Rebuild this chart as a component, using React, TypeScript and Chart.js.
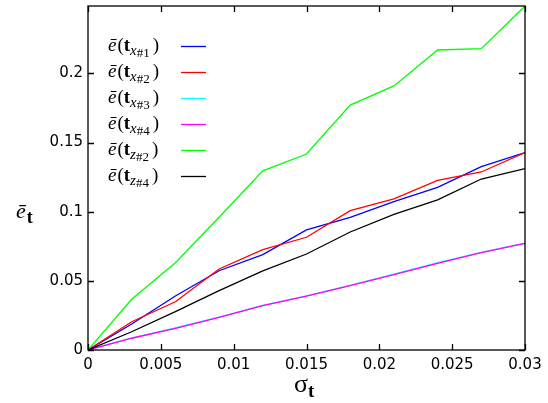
import React, { useEffect, useRef } from 'react';
import { Chart, registerables } from 'chart.js';

Chart.register(...registerables);

// Noise level sigma_t (x axis)
const sigma = [0, 0.003, 0.006, 0.009, 0.012, 0.015, 0.018, 0.021, 0.024, 0.027, 0.03];

// Mean translation error per estimator
const errTx1 = [0, 0.0188, 0.039, 0.0573, 0.069, 0.0868, 0.0959, 0.1073, 0.1176, 0.1326, 0.1427];
const errTx2 = [0, 0.0204, 0.0349, 0.0586, 0.0725, 0.0815, 0.1007, 0.1092, 0.1227, 0.1287, 0.1427];
const errTx3 = [0, 0.0086, 0.0159, 0.0238, 0.0322, 0.0392, 0.0468, 0.0548, 0.0632, 0.0706, 0.0772];
const errTx4 = [0, 0.0085, 0.0157, 0.0236, 0.032, 0.039, 0.0465, 0.0545, 0.0627, 0.0704, 0.0771];
const errTz2 = [0, 0.0367, 0.0631, 0.096, 0.1295, 0.1417, 0.1771, 0.1909, 0.2169, 0.2179, 0.2487];
const errTz4 = [0, 0.0132, 0.0277, 0.0429, 0.0572, 0.0694, 0.0853, 0.0981, 0.1085, 0.1236, 0.1311];

// Legend subscripts: axis letter and estimator index
const labelAxis = ['x', 'x', 'x', 'x', 'z', 'z'];
const labelIndex = ['#1', '#2', '#3', '#4', '#2', '#4'];
const seriesColors = ['#0000ff', '#ff0000', '#00ffff', '#ff00ff', '#00ff00', '#000000'];
const seriesValues = [errTx1, errTx2, errTx3, errTx4, errTz2, errTz4];

const X_MAX = 0.03;
const X_STEP = 0.005;
const Y_STEP = 0.05;
const Y_MAX = Math.max(...seriesValues.flat());

const SERIF = '"Liberation Serif", "DejaVu Serif", serif';
const SANS = '"DejaVu Sans", sans-serif';

const fmt = (v: number) => String(parseFloat(Number(v).toFixed(4)));

// Draws ē(t_{axis idx}) with mixed fonts; returns end x
function drawErrLabel(ctx: CanvasRenderingContext2D, x: number, y: number, axis: string, idx: string, size: number) {
  let cx = x;
  const part = (text: string, font: string, dy: number, gap = 0) => {
    ctx.font = font;
    ctx.fillText(text, cx, y + dy);
    cx += ctx.measureText(text).width + gap;
  };
  part('ē', `italic ${size}px ${SERIF}`, 0, 1);
  part('(', `${size}px ${SERIF}`, 0);
  part('t', `bold ${size}px ${SERIF}`, 0);
  part(axis, `italic ${Math.round(size * 0.78)}px ${SERIF}`, Math.round(size * 0.22));
  part(idx, `${Math.round(size * 0.68)}px ${SERIF}`, Math.round(size * 0.32), 3);
  part(')', `${size}px ${SERIF}`, 0);
  return cx;
}

const framePlugin = {
  id: 'frame',
  afterDraw(chart: any) {
    const { ctx, chartArea } = chart;
    const { left, right, top, bottom } = chartArea;
    const xs = chart.scales.x;
    const ys = chart.scales.y;
    ctx.save();
    ctx.strokeStyle = '#000';
    ctx.lineWidth = 1.3;
    ctx.strokeRect(left, top, right - left, bottom - top);

    // inward tick marks on all four sides
    const TL = 6;
    ctx.beginPath();
    xs.ticks.forEach((t: any) => {
      const px = Math.round(xs.getPixelForValue(t.value)) + 0.5;
      ctx.moveTo(px, bottom); ctx.lineTo(px, bottom - TL);
      ctx.moveTo(px, top); ctx.lineTo(px, top + TL);
    });
    ys.ticks.forEach((t: any) => {
      const py = Math.round(ys.getPixelForValue(t.value)) + 0.5;
      ctx.moveTo(left, py); ctx.lineTo(left + TL, py);
      ctx.moveTo(right, py); ctx.lineTo(right - TL, py);
    });
    ctx.stroke();

    // key
    ctx.fillStyle = '#000';
    ctx.textBaseline = 'alphabetic';
    ctx.textAlign = 'left';
    for (let i = 0; i < seriesColors.length; i++) {
      const rowY = 46.5 + 26 * i;
      drawErrLabel(ctx, 108, rowY + 4, labelAxis[i], labelIndex[i], 19);
      ctx.strokeStyle = seriesColors[i];
      ctx.lineWidth = 1.3;
      ctx.beginPath();
      ctx.moveTo(181, rowY);
      ctx.lineTo(206, rowY);
      ctx.stroke();
    }

    // y axis title: ē_t
    ctx.fillStyle = '#000';
    ctx.font = `italic 22px ${SERIF}`;
    ctx.fillText('ē', 16, 218);
    const ew = ctx.measureText('ē').width;
    ctx.font = `bold 18px ${SERIF}`;
    ctx.fillText('t', 16 + ew + 1, 223);

    // x axis title: σ_t
    ctx.font = `26px ${SERIF}`;
    ctx.fillText('σ', 294, 392);
    const sw = ctx.measureText('σ').width;
    ctx.font = `bold 19px ${SERIF}`;
    ctx.fillText('t', 294 + sw, 397);
    ctx.restore();
  },
};

export default function App() {
  const canvasRef = useRef<HTMLCanvasElement | null>(null);

  useEffect(() => {
    if (!canvasRef.current) return;
    const datasets = seriesValues.map((vals, i) => ({
      label: `${labelAxis[i]}${labelIndex[i]}`,
      data: sigma.map((s, j) => ({ x: s, y: vals[j] })),
      borderColor: seriesColors[i],
      backgroundColor: seriesColors[i],
      borderWidth: 1.3,
      pointRadius: 0,
      tension: 0,
      fill: false,
      order: seriesValues.length - i,
    }));

    const chart = new Chart(canvasRef.current, {
      type: 'line',
      data: { datasets },
      options: {
        animation: false,
        responsive: false,
        layout: { padding: { left: 0, right: 23, top: 6, bottom: 0 } },
        plugins: { legend: { display: false }, tooltip: { enabled: false } },
        scales: {
          x: {
            type: 'linear',
            min: 0,
            max: X_MAX,
            grid: { display: false, drawTicks: false },
            border: { display: false },
            ticks: {
              stepSize: X_STEP,
              padding: 6,
              color: '#000',
              font: { family: SANS, size: 15 },
              maxRotation: 0,
              autoSkip: false,
              includeBounds: false,
              callback: (v: any) => fmt(v),
            },
            afterFit: (s: any) => {
              s.height = 53;
              s.paddingLeft = 0;
              s.paddingRight = 0;
            },
          },
          y: {
            type: 'linear',
            min: 0,
            max: Y_MAX,
            grid: { display: false, drawTicks: false },
            border: { display: false },
            ticks: {
              stepSize: Y_STEP,
              padding: 5,
              color: '#000',
              font: { family: SANS, size: 15 },
              autoSkip: false,
              includeBounds: false,
              callback: (v: any) => fmt(v),
            },
            afterFit: (s: any) => {
              s.width = 88;
              s.paddingTop = 0;
              s.paddingBottom = 0;
            },
          },
        },
      },
      plugins: [framePlugin],
    } as any);

    return () => chart.destroy();
  }, []);

  return (
    <div style={{ position: 'absolute', left: 0, top: 0, width: 548, height: 403, background: '#fff' }}>
      <canvas ref={canvasRef} width={548} height={403} />
    </div>
  );
}
